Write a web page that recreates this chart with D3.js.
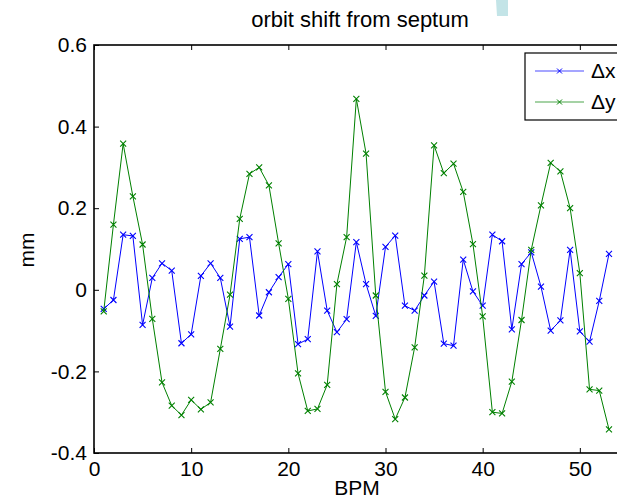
<!DOCTYPE html>
<html>
<head>
<meta charset="utf-8">
<script src="https://cdnjs.cloudflare.com/ajax/libs/d3/7.8.5/d3.min.js"></script>
<style>
  html, body { margin: 0; padding: 0; background: #fff; overflow: hidden; }
  svg { display: block; font-family: "Liberation Sans", Arial, Helvetica, sans-serif; }
</style>
</head>
<body>
<script>
// BPM index 1..53
const bpm = d3.range(1, 54);

// orbit shift in mm
const dx = [-0.047, -0.025, 0.135, 0.132, -0.086, 0.029, 0.065, 0.047, -0.131, -0.109,
  0.034, 0.065, 0.029, -0.090, 0.125, 0.129, -0.063, -0.006, 0.031, 0.063,
  -0.133, -0.121, 0.094, -0.051, -0.104, -0.072, 0.117, 0.014, -0.064, 0.105,
  0.133, -0.039, -0.051, -0.014, 0.020, -0.132, -0.137, 0.074, -0.004, -0.039,
  0.135, 0.119, -0.097, 0.063, 0.092, 0.008, -0.100, -0.075, 0.098, -0.102,
  -0.127, -0.027, 0.088];

const dy = [-0.053, 0.160, 0.358, 0.229, 0.111, -0.071, -0.227, -0.284, -0.307, -0.270,
  -0.293, -0.276, -0.145, -0.012, 0.174, 0.284, 0.300, 0.256, 0.114, -0.022,
  -0.205, -0.297, -0.292, -0.233, 0.014, 0.129, 0.468, 0.334, -0.014, -0.250,
  -0.317, -0.264, -0.141, 0.035, 0.354, 0.286, 0.309, 0.240, 0.112, -0.065,
  -0.300, -0.303, -0.225, -0.074, 0.098, 0.207, 0.311, 0.290, 0.200, 0.041,
  -0.244, -0.247, -0.342];

const xTicks = [0, 10, 20, 30, 40, 50];
const yTicks = [-0.4, -0.2, 0, 0.2, 0.4, 0.6];
const yTickLabels = ['-0.4', '-0.2', '0', '0.2', '0.4', '0.6'];

const series = [
  { name: '\u0394x', values: dx, color: '#0000ff' },
  { name: '\u0394y', values: dy, color: '#008000' }
];

const width = 617;
const height = 503;
const plotLeft = 94, plotTop = 45, plotBottom = 453, plotRight = 677;

const svg = d3.select('body').append('svg')
  .attr('width', width)
  .attr('height', height);

const x = d3.scaleLinear().domain([0, 60]).range([plotLeft, plotRight]);
const y = d3.scaleLinear().domain([-0.4, 0.6]).range([plotBottom, plotTop]);

// faint mark at the top
svg.append('polygon')
  .attr('points', '496,0 508,0 508,16 497,16')
  .attr('fill', '#c3e4e7');

// data lines and markers
const line = d3.line()
  .x((d, i) => x(bpm[i]))
  .y(d => y(d));

series.forEach(s => {
  svg.append('path')
    .attr('d', line(s.values))
    .attr('fill', 'none')
    .attr('stroke', s.color)
    .attr('stroke-width', 1);

  svg.append('g').selectAll('path')
    .data(s.values)
    .enter().append('path')
    .attr('d', (d, i) => {
      const cx = x(bpm[i]), cy = y(d), r = 3;
      return `M${cx - r},${cy - r}L${cx + r},${cy + r}M${cx - r},${cy + r}L${cx + r},${cy - r}`;
    })
    .attr('stroke', s.color)
    .attr('stroke-width', 1.1);
});

// axes (ticks inside, box around)
const tickLen = 5;

svg.append('g')
  .attr('transform', `translate(0,${plotBottom})`)
  .call(d3.axisBottom(x).tickValues(xTicks).tickSizeInner(-tickLen).tickSizeOuter(0).tickPadding(8))
  .call(g => g.select('.domain').remove());

svg.append('g')
  .attr('transform', `translate(0,${plotTop})`)
  .call(d3.axisTop(x).tickValues(xTicks).tickSizeInner(-tickLen).tickSizeOuter(0).tickFormat(''))
  .call(g => g.select('.domain').remove());

svg.append('g')
  .attr('transform', `translate(${plotLeft},0)`)
  .call(d3.axisLeft(y).tickValues(yTicks).tickSizeInner(-tickLen).tickSizeOuter(0).tickPadding(7)
    .tickFormat((d, i) => yTickLabels[i]))
  .call(g => g.select('.domain').remove());

svg.selectAll('.tick line').attr('stroke', '#000').attr('stroke-width', 1);
svg.selectAll('.tick text')
  .attr('font-size', 21)
  .attr('font-family', '"Liberation Sans", Arial, Helvetica, sans-serif')
  .attr('fill', '#000');

svg.append('rect')
  .attr('x', plotLeft).attr('y', plotTop)
  .attr('width', plotRight - plotLeft).attr('height', plotBottom - plotTop)
  .attr('fill', 'none')
  .attr('stroke', '#000')
  .attr('stroke-width', 1.6);

// title and axis labels
svg.append('text')
  .attr('x', 360).attr('y', 27)
  .attr('text-anchor', 'middle')
  .attr('font-size', 22)
  .text('orbit shift from septum');

svg.append('text')
  .attr('x', 357).attr('y', 495)
  .attr('text-anchor', 'middle')
  .attr('font-size', 21)
  .text('BPM');

svg.append('text')
  .attr('transform', 'translate(34,250) rotate(-90)')
  .attr('text-anchor', 'middle')
  .attr('font-size', 21)
  .text('mm');

// legend
const legend = svg.append('g');
legend.append('rect')
  .attr('x', 525).attr('y', 53)
  .attr('width', 120).attr('height', 67)
  .attr('fill', '#fff')
  .attr('stroke', '#000')
  .attr('stroke-width', 1.2);

series.forEach((s, i) => {
  const ly = 71 + i * 31;
  legend.append('line')
    .attr('x1', 535).attr('x2', 584)
    .attr('y1', ly).attr('y2', ly)
    .attr('stroke', s.color)
    .attr('stroke-opacity', 0.7)
    .attr('stroke-width', 1.2);
  legend.append('path')
    .attr('d', `M557,${ly - 2.5}L562,${ly + 2.5}M557,${ly + 2.5}L562,${ly - 2.5}`)
    .attr('stroke', s.color)
    .attr('stroke-width', 1);
  legend.append('text')
    .attr('x', 591).attr('y', ly + 7)
    .attr('font-size', 21)
    .text(s.name);
});
</script>
</body>
</html>
